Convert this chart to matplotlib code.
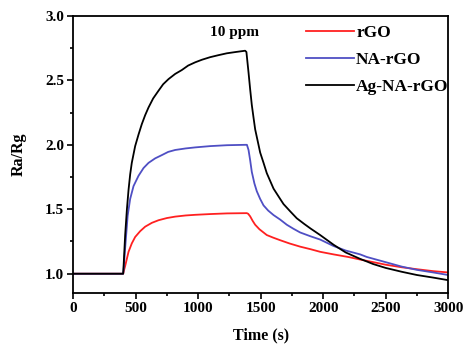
import matplotlib
matplotlib.use("Agg")
import matplotlib.pyplot as plt
from matplotlib.ticker import MultipleLocator

plt.rcParams['font.family'] = ['Liberation Serif', 'DejaVu Serif']
plt.rcParams['font.weight'] = 'bold'

# Time (s) and Ra/Rg
t_rgo = [0, 400, 405, 416, 443, 469, 496, 536, 576, 630, 683, 750, 816, 900, 976, 1100, 1230, 1389,
         1400, 1416, 1436, 1456, 1490, 1549, 1600, 1656, 1730, 1816, 1900, 1976, 2083, 2200, 2296,
         2400, 2500, 2629, 2750, 2880, 3000]
y_rgo = [1.0, 1.0, 1.02, 1.06, 1.17, 1.235, 1.285, 1.33, 1.365, 1.395, 1.415, 1.432, 1.443, 1.452, 1.457, 1.463, 1.468, 1.47,
         1.465, 1.445, 1.41, 1.38, 1.345, 1.30, 1.28, 1.26, 1.235, 1.21, 1.19, 1.17, 1.15, 1.13, 1.11,
         1.09, 1.07, 1.05, 1.035, 1.02, 1.01]

t_na = [0, 400, 405, 416, 436, 456, 483, 523, 563, 603, 656, 709, 760, 816, 900, 976, 1096, 1230, 1376,
        1390, 1403, 1416, 1429, 1450, 1469, 1496, 1523, 1560, 1603, 1656, 1709, 1760, 1816, 1900, 1976,
        2083, 2180, 2296, 2349, 2480, 2629, 2750, 2880, 3000]
y_na = [1.0, 1.0, 1.05, 1.20, 1.45, 1.58, 1.68, 1.76, 1.82, 1.86, 1.895, 1.92, 1.945, 1.96, 1.972, 1.98, 1.99, 1.997, 2.0,
        2.0, 1.96, 1.88, 1.79, 1.70, 1.64, 1.58, 1.53, 1.49, 1.455, 1.42, 1.38, 1.35, 1.32, 1.29, 1.265,
        1.215, 1.18, 1.15, 1.13, 1.095, 1.055, 1.03, 1.01, 0.99]

t_ag = [0, 400, 403, 416, 430, 443, 456, 469, 496, 523, 549, 576, 603, 640, 683, 720, 763, 816, 869, 920,
        976, 1030, 1096, 1160, 1229, 1300, 1376,
        1386, 1403, 1416, 1429, 1443, 1456, 1476, 1496, 1523, 1549, 1576, 1603, 1656, 1683, 1740, 1789,
        1850, 1900, 1976, 2083, 2180, 2296, 2349, 2400, 2500, 2629, 2750, 2880, 3000]
y_ag = [1.0, 1.0, 1.05, 1.30, 1.50, 1.65, 1.77, 1.86, 1.99, 2.08, 2.16, 2.23, 2.29, 2.36, 2.42, 2.47, 2.51, 2.55, 2.58, 2.615,
        2.64, 2.66, 2.68, 2.695, 2.71, 2.72, 2.73,
        2.72, 2.56, 2.43, 2.31, 2.21, 2.12, 2.03, 1.94, 1.86, 1.78, 1.72, 1.66, 1.58, 1.54, 1.48, 1.43,
        1.385, 1.35, 1.30, 1.225, 1.165, 1.115, 1.095, 1.075, 1.045, 1.015, 0.99, 0.97, 0.95]

labels = ['rGO', 'NA-rGO', 'Ag-NA-rGO']
colors = ['#ff2020', '#4f4fc4', '#000000']

fig = plt.figure(figsize=(4.63, 3.46), dpi=100)
ax = fig.add_axes([0.158, 0.153, 0.810, 0.801])

for t, y, lab, c in zip([t_rgo, t_na, t_ag], [y_rgo, y_na, y_ag], labels, colors):
    ax.plot(t, y, color=c, lw=1.3, label=lab, solid_joinstyle='round')

ax.set_xlim(0, 3000)
ax.set_ylim(0.85, 3.0)
ax.xaxis.set_major_locator(MultipleLocator(500))
ax.xaxis.set_minor_locator(MultipleLocator(250))
ax.yaxis.set_major_locator(MultipleLocator(0.5))
ax.yaxis.set_minor_locator(MultipleLocator(0.25))
ax.tick_params(which='both', direction='out', labelsize=11, width=1.2)
ax.tick_params(which='major', length=4, pad=2.5)
ax.tick_params(which='minor', length=2.5)
for s in ax.spines.values():
    s.set_linewidth(1.3)
ax.set_yticks([1.0, 1.5, 2.0, 2.5, 3.0])
ax.set_yticklabels(['1.0', '1.5', '2.0', '2.5', '3.0'])

ax.set_xlabel('Time (s)', fontsize=11.5, fontweight='bold', labelpad=9)
ax.set_ylabel('Ra/Rg', fontsize=11.5, fontweight='bold', labelpad=13)

ax.text(0.43, 0.939, '10 ppm', transform=ax.transAxes, ha='center', va='center',
        fontsize=11, fontweight='bold')

leg = ax.legend(loc='upper left', bbox_to_anchor=(0.62, 0.966), frameon=False,
                borderaxespad=0, borderpad=0,
                handlelength=2.76, handletextpad=0.15, labelspacing=0.6,
                prop={'weight': 'bold', 'size': 12.5})

fig.savefig('out.png', dpi=100, facecolor='white')
